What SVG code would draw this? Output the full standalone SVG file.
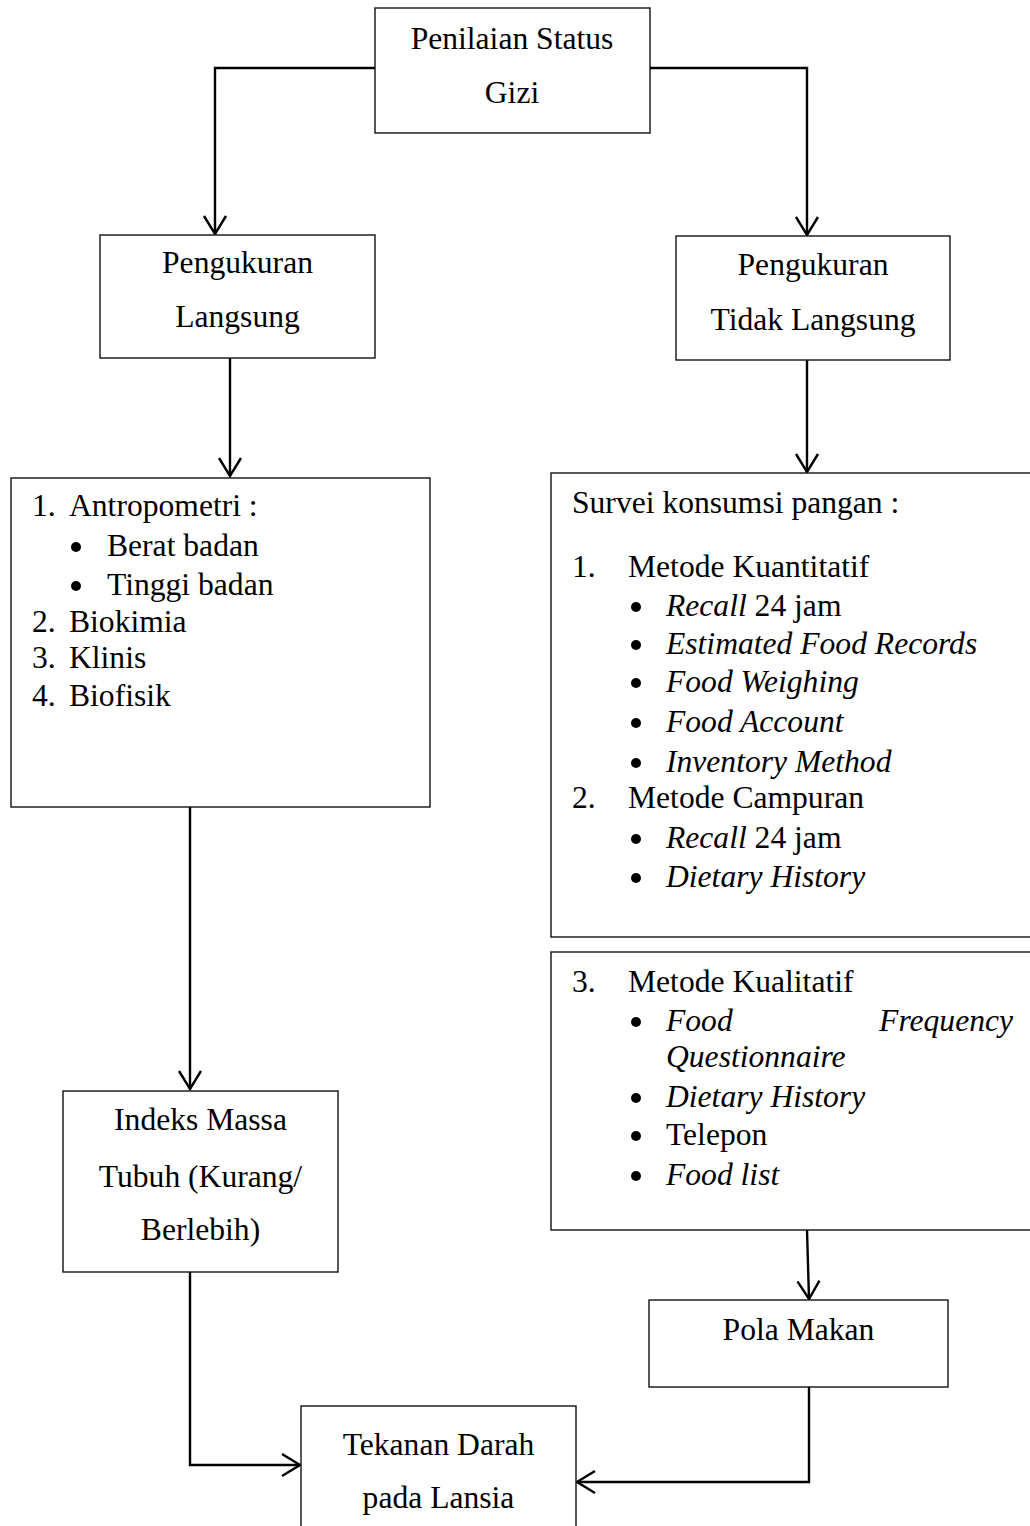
<svg xmlns="http://www.w3.org/2000/svg" width="1030" height="1526" viewBox="0 0 1030 1526">
<style>
  text { font-family: "Liberation Serif", "Times New Roman", serif; font-size: 31.6px; fill: #000; }
  .c { text-anchor: middle; }
  .i { font-style: italic; }
  .dot { fill: #000; }
  .box { fill: #fff; stroke: #111; stroke-width: 1.4; }
  .con { fill: none; stroke: #000; stroke-width: 2.4; }
</style>
<defs>
  <marker id="arr" markerUnits="userSpaceOnUse" viewBox="-20 -13 22 26" refX="0" refY="0" markerWidth="22" markerHeight="26" orient="auto" overflow="visible">
    <path d="M -18 -11 L 0 0 L -18 11" fill="none" stroke="#000" stroke-width="2.4"/>
  </marker>
</defs>

<g id="connectors">
  <path class="con" d="M 375 68 L 215 68 L 215 234" marker-end="url(#arr)"/>
  <path class="con" d="M 650 68 L 807 68 L 807 235" marker-end="url(#arr)"/>
  <path class="con" d="M 230 358 L 230 476" marker-end="url(#arr)"/>
  <path class="con" d="M 807 360 L 807 472" marker-end="url(#arr)"/>
  <path class="con" d="M 190 807 L 190 1089" marker-end="url(#arr)"/>
  <path class="con" d="M 807 1230 L 809 1299" marker-end="url(#arr)"/>
  <path class="con" d="M 190 1272 L 190 1465 L 300 1465" marker-end="url(#arr)"/>
  <path class="con" d="M 809 1387 L 809 1482 L 577 1482" marker-end="url(#arr)"/>
</g>

<g id="penilaian">
  <rect class="box" x="375" y="8" width="275" height="125"/>
  <text class="c" x="512" y="49">Penilaian Status</text>
  <text class="c" x="512" y="103">Gizi</text>
</g>

<g id="langsung">
  <rect class="box" x="100" y="235" width="275" height="123"/>
  <text class="c" x="237.5" y="273">Pengukuran</text>
  <text class="c" x="237.5" y="327">Langsung</text>
</g>

<g id="tidak-langsung">
  <rect class="box" x="676" y="236" width="274" height="124"/>
  <text class="c" x="813" y="275">Pengukuran</text>
  <text class="c" x="813" y="330">Tidak Langsung</text>
</g>

<g id="metode-langsung">
  <rect class="box" x="11" y="478" width="419" height="329"/>
  <text x="32" y="516">1.</text><text x="69" y="516">Antropometri :</text>
  <circle class="dot" cx="76" cy="547" r="5"/><text x="107" y="556">Berat badan</text>
  <circle class="dot" cx="76" cy="586" r="5"/><text x="107" y="595">Tinggi badan</text>
  <text x="32" y="632">2.</text><text x="69" y="632">Biokimia</text>
  <text x="32" y="668">3.</text><text x="69" y="668">Klinis</text>
  <text x="32" y="706">4.</text><text x="69" y="706">Biofisik</text>
</g>

<g id="survei">
  <rect class="box" x="551" y="473" width="500" height="464"/>
  <text x="572" y="513">Survei konsumsi pangan :</text>
  <text x="572" y="577">1.</text><text x="628" y="577">Metode Kuantitatif</text>
  <circle class="dot" cx="636" cy="607" r="5"/><text x="666" y="616"><tspan class="i">Recall</tspan> 24 jam</text>
  <circle class="dot" cx="636" cy="645" r="5"/><text class="i" x="666" y="654">Estimated Food Records</text>
  <circle class="dot" cx="636" cy="683" r="5"/><text class="i" x="666" y="692">Food Weighing</text>
  <circle class="dot" cx="636" cy="723" r="5"/><text class="i" x="666" y="732">Food Account</text>
  <circle class="dot" cx="636" cy="763" r="5"/><text class="i" x="666" y="772">Inventory Method</text>
  <text x="572" y="808">2.</text><text x="628" y="808">Metode Campuran</text>
  <circle class="dot" cx="636" cy="839" r="5"/><text x="666" y="848"><tspan class="i">Recall</tspan> 24 jam</text>
  <circle class="dot" cx="636" cy="878" r="5"/><text class="i" x="666" y="887">Dietary History</text>
</g>

<g id="kualitatif">
  <rect class="box" x="551" y="952" width="500" height="278"/>
  <text x="572" y="992">3.</text><text x="628" y="992">Metode Kualitatif</text>
  <circle class="dot" cx="636" cy="1022" r="5"/><text class="i" x="666" y="1031">Food</text>
  <text class="i" x="1013" y="1031" text-anchor="end">Frequency</text>
  <text class="i" x="666" y="1067">Questionnaire</text>
  <circle class="dot" cx="636" cy="1098" r="5"/><text class="i" x="666" y="1107">Dietary History</text>
  <circle class="dot" cx="636" cy="1136" r="5"/><text x="666" y="1145">Telepon</text>
  <circle class="dot" cx="636" cy="1176" r="5"/><text class="i" x="666" y="1185">Food list</text>
</g>

<g id="imt">
  <rect class="box" x="63" y="1091" width="275" height="181"/>
  <text class="c" x="200.5" y="1130">Indeks Massa</text>
  <text class="c" x="200.5" y="1187">Tubuh (Kurang/</text>
  <text class="c" x="200.5" y="1240">Berlebih)</text>
</g>

<g id="pola-makan">
  <rect class="box" x="649" y="1300" width="299" height="87"/>
  <text class="c" x="798.5" y="1340">Pola Makan</text>
</g>

<g id="tekanan-darah">
  <rect class="box" x="301" y="1406" width="275" height="140"/>
  <text class="c" x="438.5" y="1455">Tekanan Darah</text>
  <text class="c" x="438.5" y="1508">pada Lansia</text>
</g>
</svg>
